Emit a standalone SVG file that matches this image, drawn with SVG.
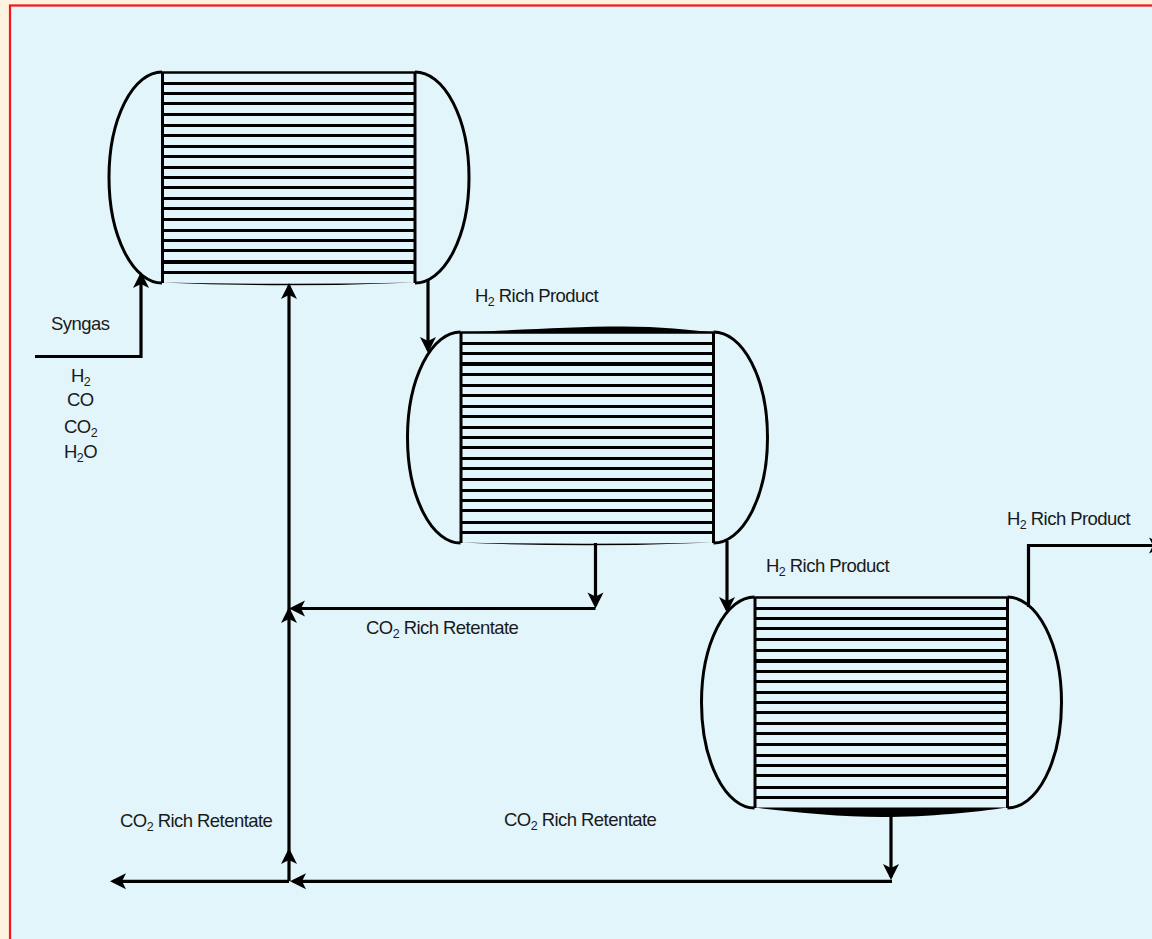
<svg xmlns="http://www.w3.org/2000/svg" width="1152" height="939" viewBox="0 0 1152 939">
<style>
.l{font-family:"Liberation Sans",Arial,sans-serif;font-size:18.500px;fill:#1a1a1a;letter-spacing:-.55px}
.s{font-size:12.500px}
.h{fill:none;stroke:#000;stroke-width:3}
.t{stroke:#000;stroke-width:3;fill:none;shape-rendering:crispEdges}
.c{fill:none;stroke:#000;stroke-width:3.200}
.k{stroke:#000;stroke-width:4;fill:none;shape-rendering:crispEdges}
</style>
<defs>
<marker id="a" markerUnits="userSpaceOnUse" markerWidth="20" markerHeight="20" refX="14" refY="9" orient="auto" overflow="visible"><path d="M17 9L1 1L5 9L1 17Z" fill="#000"/></marker>
<g id="tubes">
<path class="h" d="M162.500 72V283M415 72V283"/>
<path d="M162 72.500H415" stroke="#000" stroke-width="2.400"/>
<path class="t" d="M162 83H415M162 93.500H415M162 103.500H415M162 114.500H415M162 125.500H415M162 135.500H415M162 146.500H415M162 156.500H415M162 167.500H415M162 177.500H415M162 187.500H415M162 198.500H415M162 208.500H415M162 219.500H415M162 230.500H415M162 240.500H415M162 250.500H415M162 262H415M162 272.500H415"/>
<path class="h" d="M162 72A53 105.500 0 0 0 162 283"/>
<path class="h" d="M415 72A54 105.500 0 0 1 415 283"/>
</g>
</defs>
<rect width="1152" height="939" fill="#fdf3df"/>
<rect x="10" y="5.500" width="1150" height="940" fill="#e2f5fa" stroke="#f5141c" stroke-width="2.200"/>
<g id="vessel-1"><use href="#tubes"/><path class="k" d="M162 262H415"/><path d="M162 282.500Q288 288 415 282.500Q288 285 162 282.500Z" fill="#000"/></g>
<g id="vessel-2"><use href="#tubes" x="298.500" y="260"/><path class="k" d="M461 364H713"/><path d="M461 332.500C520 330 570 326.500 623 326.500C660 326.500 690 330 714 332.500Z" fill="#000"/><path d="M461 542.500Q586 548 713 542.500Q586 545 461 542.500Z" fill="#000"/></g>
<g id="vessel-3"><use href="#tubes" x="592.500" y="525"/><path class="k" d="M755 661H1008"/><path d="M754 807.500C790 812 840 817 882 817C930 817 975 812 1008 807.500Z" fill="#000"/></g>
<g id="connectors">
<path class="c" d="M35 356.500H141V275" marker-end="url(#a)"/>
<path class="c" d="M289 881V851" marker-end="url(#a)"/>
<path class="c" d="M289 851V610" marker-end="url(#a)"/>
<path class="c" d="M289 610V286" marker-end="url(#a)"/>
<path class="c" d="M595.500 608.500H292" marker-end="url(#a)"/>
<path class="c" d="M595.500 543V605.500" marker-end="url(#a)"/>
<path class="c" d="M428 280V350" marker-end="url(#a)"/>
<path class="c" d="M727 541V610" marker-end="url(#a)"/>
<path class="c" d="M1028.500 607V545.500H1162" marker-end="url(#a)"/>
<path class="c" d="M891 808V877" marker-end="url(#a)"/>
<path class="c" d="M892 881.300H293" marker-end="url(#a)"/>
<path class="c" d="M289 881.300H113" marker-end="url(#a)"/>
</g>
<g id="labels">
<text class="l" x="51" y="330">Syngas</text>
<text class="l" x="71" y="382">H<tspan class="s" dy="4">2</tspan></text>
<text class="l" x="67" y="406">CO</text>
<text class="l" x="64" y="433">CO<tspan class="s" dy="4">2</tspan></text>
<text class="l" x="64" y="458">H<tspan class="s" dy="4">2</tspan><tspan dy="-4">O</tspan></text>
<text class="l" x="475" y="302">H<tspan class="s" dy="4">2</tspan><tspan dy="-4"> Rich Product</tspan></text>
<text class="l" x="766" y="572">H<tspan class="s" dy="4">2</tspan><tspan dy="-4"> Rich Product</tspan></text>
<text class="l" x="1007" y="525">H<tspan class="s" dy="4">2</tspan><tspan dy="-4"> Rich Product</tspan></text>
<text class="l" x="366" y="634">CO<tspan class="s" dy="4">2</tspan><tspan dy="-4"> Rich Retentate</tspan></text>
<text class="l" x="120" y="827">CO<tspan class="s" dy="4">2</tspan><tspan dy="-4"> Rich Retentate</tspan></text>
<text class="l" x="504" y="826">CO<tspan class="s" dy="4">2</tspan><tspan dy="-4"> Rich Retentate</tspan></text>
</g>
</svg>
